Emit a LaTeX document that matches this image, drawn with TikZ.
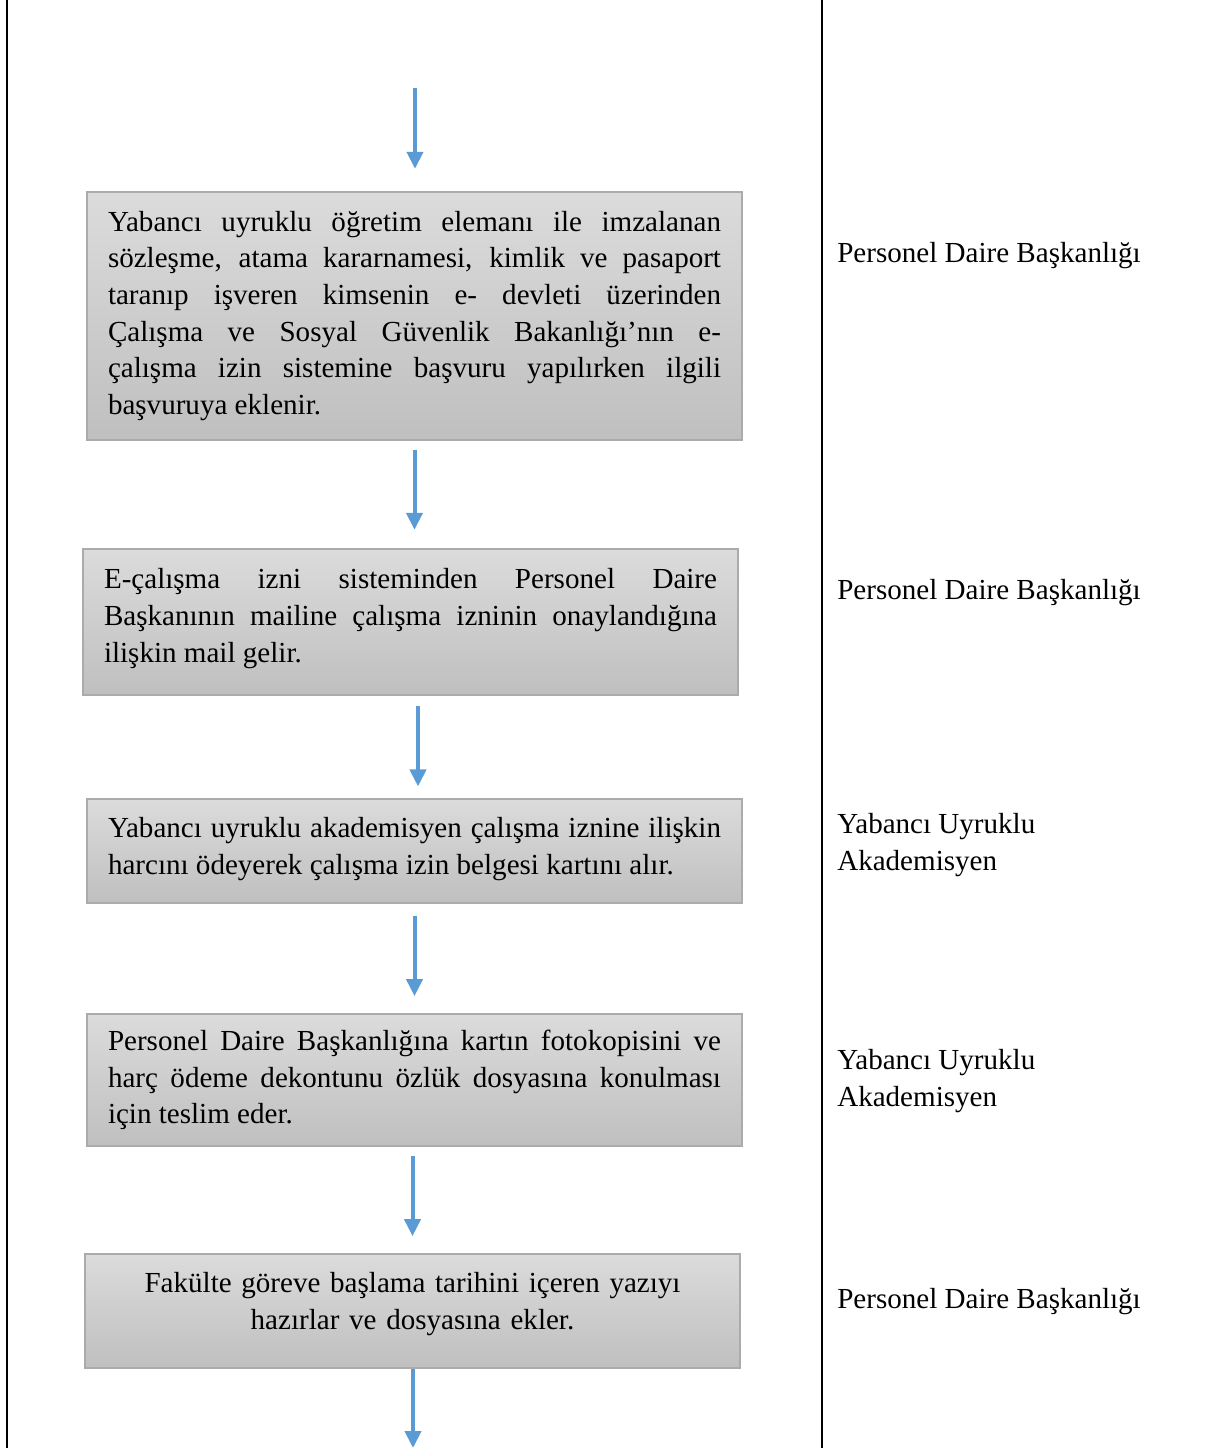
\documentclass[tikz,border=0pt]{standalone}
\usepackage{fontspec}
\setmainfont{Liberation Serif}
\usetikzlibrary{arrows.meta}
\definecolor{flowblue}{HTML}{5B9BD5}
\hyphenpenalty=10000
\exhyphenpenalty=10000
\begin{document}
\begin{tikzpicture}[x=0.75pt,y=-0.75pt,
font=\fontsize{21.8pt}{27.5pt}\selectfont,
>={Triangle[length=12.75pt,width=12pt]},
stepbox/.style={draw=black!33,line width=0.8pt,top color=black!14,bottom color=black!25,
  text width=459.75pt,inner xsep=15.75pt,inner ysep=0pt,align=justify,minimum width=491.25pt},
flow/.style={->,draw=flowblue,line width=3pt},
unitlabel/.style={anchor=west,inner sep=0pt,align=left}]

\useasboundingbox (0,0) rectangle (1204,1448);
\draw[line width=1.8pt] (7,0) -- (7,1448);
\draw[line width=1.8pt] (822,0) -- (822,1448);

\draw (415,88) coordinate (start);
\draw (414.5,316) node[stepbox,minimum height=186pt] (b1) {Yabancı uyruklu öğretim elemanı ile imzalanan\linebreak
sözleşme, atama kararnamesi, kimlik ve pasaport\linebreak
taranıp işveren kimsenin e- devleti üzerinden\linebreak
Çalışma ve Sosyal Güvenlik Bakanlığı’nın e-\linebreak
çalışma izin sistemine başvuru yapılırken ilgili\linebreak
başvuruya eklenir.};
\draw (410.5,622) node[stepbox,minimum height=109.5pt] (b2) {E-çalışma izni sisteminden Personel Daire\linebreak
Başkanının mailine çalışma izninin onaylandığına\linebreak
ilişkin mail gelir.\rule[-10pt]{0pt}{0pt}};
\draw (414.5,851) node[stepbox,minimum height=78pt] (b3) {Yabancı uyruklu akademisyen çalışma iznine ilişkin\linebreak
harcını ödeyerek çalışma izin belgesi kartını alır.\rule[-8pt]{0pt}{0pt}};
\draw (414.5,1080) node[stepbox,minimum height=99pt] (b4) {Personel Daire Başkanlığına kartın fotokopisini ve\linebreak
harç ödeme dekontunu özlük dosyasına konulması\linebreak
için teslim eder.};
\draw (412.5,1311) node[stepbox,minimum height=85.5pt,align=center] (b5) {Fakülte göreve başlama tarihini içeren yazıyı\\
hazırlar ve dosyasına ekler.\rule[-15pt]{0pt}{0pt}};
\draw (413,1448) coordinate (finish);

\draw (837,256) node[unitlabel] (r1) {Personel Daire Başkanlığı};
\draw (837,593) node[unitlabel] (r2) {Personel Daire Başkanlığı};
\draw (837,845) node[unitlabel] (r3) {Yabancı Uyruklu\\Akademisyen};
\draw (837,1081) node[unitlabel] (r4) {Yabancı Uyruklu\\Akademisyen};
\draw (837,1302) node[unitlabel] (r5) {Personel Daire Başkanlığı};

\draw[flow,shorten >=17pt] (start) -- (start |- b1.north);
\draw[flow,shorten <=6.75pt,shorten >=14pt] (b1.south) -- (b1.south |- b2.north);
\draw[flow,shorten <=8pt,shorten >=9pt] (b2.south -| 418,0) -- (418,0 |- b3.north);
\draw[flow,shorten <=9pt,shorten >=13pt] (b3.south) -- (b3.south |- b4.north);
\draw[flow,shorten <=6.75pt,shorten >=13pt] (b4.south -| b5.south) -- (b5.north);
\draw[flow] (b5.south -| finish) -- (finish);

\end{tikzpicture}
\end{document}
